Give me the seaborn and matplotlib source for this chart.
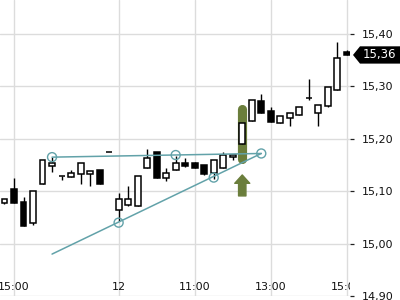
import matplotlib
matplotlib.use("Agg")
import matplotlib.pyplot as plt
import matplotlib.transforms as mtransforms
from matplotlib.patches import Polygon
import numpy as np
import pandas as pd
import seaborn as sns

# ---- data ----
opens  = [15.078, 15.104, 15.079, 15.039, 15.113, 15.149, 15.129, 15.128, 15.133, 15.133,
          15.140, 15.174, 15.064, 15.073, 15.072, 15.144, 15.174, 15.125, 15.140, 15.154,
          15.154, 15.150, 15.134, 15.144, 15.165, 15.190, 15.234, 15.273, 15.254, 15.230,
          15.239, 15.245, 15.278, 15.249, 15.263, 15.294, 15.366]
highs  = [15.085, 15.125, 15.088, 15.100, 15.159, 15.165, 15.129, 15.140, 15.153, 15.139,
          15.140, 15.174, 15.096, 15.110, 15.129, 15.180, 15.174, 15.144, 15.167, 15.164,
          15.156, 15.150, 15.159, 15.175, 15.169, 15.230, 15.274, 15.285, 15.260, 15.244,
          15.249, 15.260, 15.314, 15.264, 15.298, 15.384, 15.369]
lows   = [15.076, 15.078, 15.034, 15.036, 15.113, 15.136, 15.121, 15.127, 15.114, 15.110,
          15.113, 15.174, 15.043, 15.071, 15.072, 15.144, 15.125, 15.120, 15.140, 15.146,
          15.144, 15.130, 15.123, 15.144, 15.160, 15.190, 15.234, 15.249, 15.233, 15.230,
          15.225, 15.245, 15.275, 15.225, 15.260, 15.294, 15.359]
closes = [15.085, 15.078, 15.034, 15.100, 15.159, 15.153, 15.129, 15.134, 15.153, 15.139,
          15.113, 15.174, 15.085, 15.085, 15.129, 15.164, 15.125, 15.134, 15.153, 15.149,
          15.144, 15.132, 15.159, 15.169, 15.169, 15.230, 15.274, 15.249, 15.233, 15.244,
          15.249, 15.260, 15.278, 15.264, 15.298, 15.354, 15.359]

xtick_pos = [1, 12, 20, 28, 36]
xtick_labels = ["15:00", "12", "11:00", "13:00", "15:00"]
ytick_vals = [14.90, 15.00, 15.10, 15.20, 15.30, 15.40]

# trendlines (bar index, price)
upper_line_x = [5, 27]
upper_line_y = [15.165, 15.172]
lower_line_x = [5, 27]
lower_line_y = [14.980, 15.172]
pivot_x = [5, 18, 27, 12, 22]
pivot_y = [15.165, 15.169, 15.172, 15.040, 15.126]

highlight_bar = 25
highlight_range = [15.162, 15.256]
arrow_tip = 15.131
arrow_base = 15.091
last_price = 15.36

# ---- style ----
sns.set_style("white")
plt.rcParams["font.family"] = ["DejaVu Sans"]

TEAL = "#62a2a9"
OLIVE = "#6b7e3c"
GRID = "#dcdcdc"

fig = plt.figure(figsize=(4, 3), dpi=100)
ax = fig.add_axes([0, 4 / 300, 350 / 400, 296 / 300])

n = len(opens)
df = pd.DataFrame({"i": np.arange(n), "o": opens, "h": highs, "l": lows, "c": closes})
df["up"] = df["c"] >= df["o"]

ax.set_xlim(-0.473, 36.33)
ax.set_ylim(14.90, 15.4649)

# grid
for xv in xtick_pos:
    ax.axvline(xv, color=GRID, lw=1.0, zorder=0)
for yv in ytick_vals:
    ax.axhline(yv, color=GRID, lw=1.0, zorder=0)

# highlight pill
ax.plot([highlight_bar, highlight_bar], highlight_range, color=OLIVE, lw=6.6,
        solid_capstyle="round", zorder=1)

# wicks
ax.vlines(df["i"], df["l"], df["h"], color="black", lw=1.0, zorder=2)
# bodies
bottoms = np.minimum(df["o"], df["c"])
heights = np.abs(df["c"] - df["o"])
colors = np.where(df["up"], "white", "black")
ax.bar(df["i"], heights, bottom=bottoms, width=0.62, color=colors,
       edgecolor="black", linewidth=1.1, zorder=3)

# trendlines
sns.lineplot(x=upper_line_x, y=upper_line_y, ax=ax, color=TEAL, lw=1.1, zorder=4)
sns.lineplot(x=lower_line_x, y=lower_line_y, ax=ax, color=TEAL, lw=1.1, zorder=4)
ax.scatter(pivot_x, pivot_y, s=42, facecolors="none", edgecolors=TEAL,
           linewidths=1.0, zorder=5)

# up arrow
ax.annotate("", xy=(highlight_bar, arrow_tip), xytext=(highlight_bar, arrow_base),
            arrowprops=dict(arrowstyle="simple,head_length=0.6,head_width=1.08,tail_width=0.53",
                            color=OLIVE, shrinkA=0, shrinkB=0, mutation_scale=10),
            zorder=5)

# axes
for s in ax.spines.values():
    s.set_visible(False)
ax.yaxis.tick_right()
ax.set_yticks(ytick_vals, [f"{v:.2f}".replace(".", ",") for v in ytick_vals])
ax.set_xticks(xtick_pos, xtick_labels)
ax.tick_params(axis="y", direction="out", length=2.9, width=0.9, color="#222222",
               pad=5.8, labelsize=8, labelcolor="#111111")
ax.tick_params(axis="x", direction="out", length=2.9, width=0.9, color="#222222",
               pad=-13.3, labelsize=8, labelcolor="#111111")
for lab in ax.get_xticklabels():
    lab.set_clip_on(True)
    lab.set_clip_box(ax.bbox)
ax.grid(False)

# last price tag
trans = mtransforms.blended_transform_factory(fig.transFigure, ax.transData)
h = 0.0165
tag = Polygon([(353 / 400, last_price), (360 / 400, last_price + h), (1.0, last_price + h),
               (1.0, last_price - h), (360 / 400, last_price - h)],
              closed=True, transform=trans, facecolor="black", edgecolor="none",
              clip_on=False, zorder=10)
fig.patches.append(tag)
fig.text(379 / 400, 0, f"{last_price:.2f}".replace(".", ","), transform=trans,
         color="white", fontsize=8.5, ha="center", va="center", zorder=11)
fig.texts[-1].set_y(last_price)

fig.savefig("out.png", dpi=100)
